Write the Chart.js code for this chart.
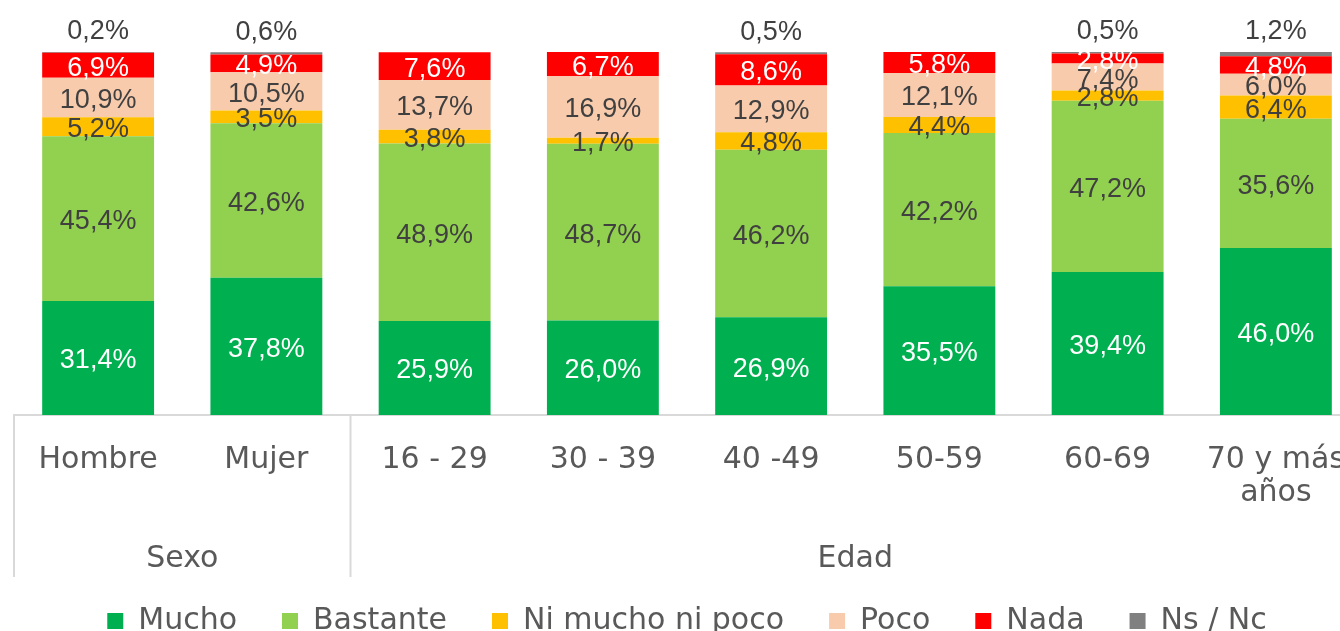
<!DOCTYPE html>
<html>
<head>
<meta charset="utf-8">
<script src="https://cdn.jsdelivr.net/npm/chart.js@4.4.1/dist/chart.umd.min.js"></script>
<style>
  html, body { margin: 0; padding: 0; background: #ffffff; overflow: hidden; }
  #wrap { width: 1376px; height: 646px; }
</style>
</head>
<body>
<div id="wrap"><canvas id="c" width="1376" height="646"></canvas></div>
<script>
const categories = ['Hombre', 'Mujer', '16 - 29', '30 - 39', '40 -49', '50-59', '60-69', ['70 y más', 'años']];
const groupLabels = ['Sexo', 'Edad'];
const groupSizes = [2, 6];

const seriesNames = ['Mucho', 'Bastante', 'Ni mucho ni poco', 'Poco', 'Nada', 'Ns / Nc'];
const mucho    = [31.4, 37.8, 25.9, 26.0, 26.9, 35.5, 39.4, 46.0];
const bastante = [45.4, 42.6, 48.9, 48.7, 46.2, 42.2, 47.2, 35.6];
const niMucho  = [5.2, 3.5, 3.8, 1.7, 4.8, 4.4, 2.8, 6.4];
const poco     = [10.9, 10.5, 13.7, 16.9, 12.9, 12.1, 7.4, 6.0];
const nada     = [6.9, 4.9, 7.6, 6.7, 8.6, 5.8, 2.8, 4.8];
const nsnc     = [0.2, 0.6, null, null, 0.5, null, 0.5, 1.2];

const seriesColors = ['#00B050', '#92D050', '#FFC000', '#F8CBAD', '#FF0000', '#808080'];
const labelColors  = ['#ffffff', '#404040', '#404040', '#404040', '#ffffff', '#404040'];

const TEXT_FONT = '"DejaVu Sans", sans-serif';
const LABEL_FONT = '"Liberation Sans", Arial, sans-serif';
const AXIS_COLOR = '#595959';
const LINE_COLOR = '#D9D9D9';

const allSeries = [mucho, bastante, niMucho, poco, nada, nsnc];

const datasets = allSeries.map((d, i) => ({
  label: seriesNames[i],
  data: d,
  backgroundColor: seriesColors[i],
  borderWidth: 0,
  barPercentage: 0.665,
  categoryPercentage: 1.0
}));

function fmt(v) { return v.toFixed(1).replace('.', ',') + '%'; }

const valueLabels = {
  id: 'valueLabels',
  afterDatasetsDraw(chart) {
    const ctx = chart.ctx;
    ctx.save();
    ctx.font = '27px ' + LABEL_FONT;
    ctx.textAlign = 'center';
    ctx.textBaseline = 'middle';
    chart.data.datasets.forEach((ds, di) => {
      const meta = chart.getDatasetMeta(di);
      meta.data.forEach((el, i) => {
        const v = ds.data[i];
        if (v === null || v === undefined || v === 0) return;
        let y;
        if (di === 5) {
          y = el.y - 20;
        } else {
          y = (el.y + el.base) / 2 + 3;
        }
        ctx.fillStyle = labelColors[di];
        ctx.fillText(fmt(v), el.x, y);
      });
    });
    ctx.restore();
  }
};

const groupAxis = {
  id: 'groupAxis',
  afterDraw(chart) {
    const ctx = chart.ctx;
    const xs = chart.scales.x;
    const area = chart.chartArea;
    const top = area.bottom;
    const bottom = area.bottom + 162;
    ctx.save();
    ctx.strokeStyle = LINE_COLOR;
    ctx.lineWidth = 2;
    const bounds = [area.left];
    let idx = 0;
    groupSizes.forEach((n) => {
      idx += n;
      if (idx < categories.length) {
        bounds.push((xs.getPixelForTick(idx - 1) + xs.getPixelForTick(idx)) / 2);
      } else {
        bounds.push(area.right);
      }
    });
    bounds.forEach((x) => {
      ctx.beginPath();
      ctx.moveTo(x, top);
      ctx.lineTo(x, bottom);
      ctx.stroke();
    });
    ctx.fillStyle = AXIS_COLOR;
    ctx.font = '30px ' + TEXT_FONT;
    ctx.textAlign = 'center';
    ctx.textBaseline = 'middle';
    let start = 0;
    groupSizes.forEach((n, g) => {
      const x0 = xs.getPixelForTick(start);
      const x1 = xs.getPixelForTick(start + n - 1);
      ctx.fillText(groupLabels[g], (x0 + x1) / 2, area.bottom + 144);
      start += n;
    });
    ctx.restore();
  }
};

new Chart(document.getElementById('c'), {
  type: 'bar',
  data: { labels: categories, datasets },
  options: {
    responsive: false,
    animation: false,
    layout: { padding: { top: 52, left: 14, right: 16, bottom: 0 } },
    plugins: {
      legend: {
        position: 'bottom',
        labels: {
          boxWidth: 16,
          boxHeight: 16,
          padding: 45,
          color: AXIS_COLOR,
          font: { family: TEXT_FONT, size: 30 }
        }
      },
      tooltip: { enabled: false },
      title: { display: false }
    },
    scales: {
      x: {
        stacked: true,
        grid: { display: false, drawTicks: false },
        border: { display: true, color: LINE_COLOR, width: 2 },
        ticks: {
          autoSkip: false,
          maxRotation: 0,
          minRotation: 0,
          padding: 29,
          color: AXIS_COLOR,
          font: { family: TEXT_FONT, size: 30, lineHeight: 1.1 }
        },
        afterFit(scale) { scale.height = 146; }
      },
      y: {
        stacked: true,
        display: false,
        min: 0,
        max: 100
      }
    }
  },
  plugins: [valueLabels, groupAxis]
});
</script>
</body>
</html>
